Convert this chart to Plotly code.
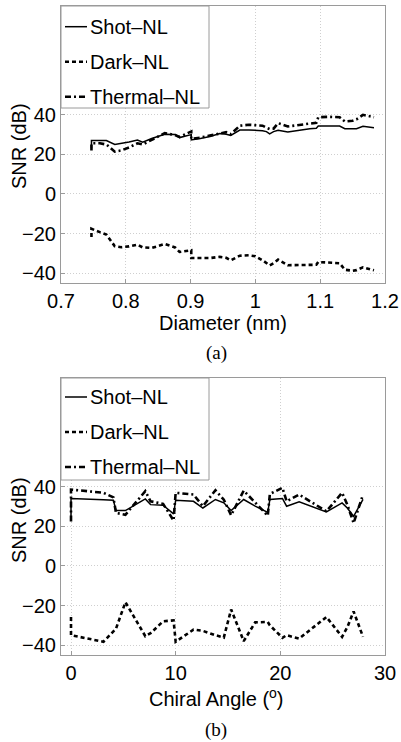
import plotly.graph_objects as go

# ---------------- data: panel (a) ----------------
diameter_nm = [0.747, 0.747, 0.760, 0.770, 0.783, 0.793, 0.805, 0.818, 0.826, 0.840,
               0.860, 0.876, 0.883, 0.901, 0.901, 0.915, 0.930, 0.945, 0.955, 0.962,
               0.976, 0.990, 1.000, 1.011, 1.017, 1.022, 1.028, 1.035, 1.050, 1.065,
               1.084, 1.094, 1.097, 1.113, 1.130, 1.138, 1.150, 1.156, 1.166, 1.183]
shot_a = [23.1, 27.0, 27.0, 27.0, 25.0, 25.5, 26.3, 27.3, 26.2, 28.0,
          30.2, 30.0, 28.5, 30.0, 27.3, 28.0, 29.0, 30.5, 30.2, 29.6,
          32.3, 32.3, 32.2, 32.0, 31.5, 30.4, 31.5, 32.2, 31.3, 32.2,
          33.0, 33.2, 34.3, 34.4, 34.3, 33.0, 33.2, 33.0, 34.2, 33.5]
dark_a = [-21.7, -17.6, -19.3, -20.5, -26.4, -26.9, -26.5, -25.6, -27.0, -27.3,
          -25.3, -27.0, -29.3, -28.5, -32.4, -32.4, -32.4, -31.8, -32.3, -33.5,
          -31.2, -31.0, -31.5, -33.5, -34.9, -36.1, -35.0, -33.2, -36.0, -35.9,
          -35.8, -35.8, -34.4, -34.6, -35.0, -38.3, -38.8, -38.5, -37.1, -38.6]
thermal_a = [22.0, 25.6, 25.6, 25.0, 21.4, 22.0, 23.5, 25.6, 25.0, 27.5,
             30.7, 29.8, 28.8, 31.6, 27.8, 28.5, 29.5, 30.7, 31.2, 30.2,
             34.5, 35.0, 34.8, 34.5, 33.5, 32.8, 33.0, 35.8, 34.1, 34.8,
             35.8, 36.0, 38.8, 39.0, 38.8, 36.6, 37.0, 37.7, 40.0, 38.8]

# ---------------- data: panel (b) ----------------
chiral_deg = [0.0, 0.0, 3.1, 4.05, 4.3, 5.2, 7.1, 7.6, 8.8, 9.8,
              10.0, 11.7, 12.6, 13.8, 14.6, 15.3, 16.5, 17.6, 18.8, 19.0,
              20.2, 20.6, 21.8, 24.4, 25.9, 26.4, 27.0, 27.9]
shot_b = [23.4, 34.1, 33.5, 33.2, 28.0, 28.0, 33.9, 31.0, 30.7, 26.3,
          33.2, 32.7, 29.3, 33.6, 31.9, 28.0, 33.6, 30.2, 27.1, 33.6,
          34.1, 30.2, 32.4, 27.3, 31.9, 29.3, 25.1, 33.6]
dark_b = [-25.8, -35.0, -38.3, -33.0, -31.7, -18.3, -35.5, -34.0, -28.0, -27.5,
          -38.3, -32.2, -32.8, -35.0, -36.2, -22.0, -38.0, -28.5, -28.3, -30.0,
          -36.3, -35.0, -36.7, -25.8, -35.8, -31.0, -23.0, -35.8]
thermal_b = [22.5, 38.6, 37.0, 34.7, 26.8, 25.9, 37.8, 32.7, 31.4, 23.0,
             37.0, 36.1, 30.2, 38.3, 33.5, 25.6, 38.1, 31.9, 25.4, 36.4,
             39.5, 32.7, 36.1, 27.6, 37.0, 31.0, 21.7, 36.1]

series_names = ["Shot–NL", "Dark–NL", "Thermal–NL"]
y_tickvals = [-40, -20, 0, 20, 40]
xa_tickvals = [0.7, 0.8, 0.9, 1.0, 1.1, 1.2]
xa_ticktext = ["0.7", "0.8", "0.9", "1", "1.1", "1.2"]
xb_tickvals = [0, 10, 20, 30]

# ---------------- layout geometry (pixels) ----------------
W, H = 401, 742
SANS = "Liberation Sans, Arial, sans-serif"
SERIF = "Liberation Serif, Times New Roman, serif"
FS = 20

def px(x):
    return x / W

def py(y):
    return 1 - y / H

styles = [
    dict(color="black", width=1.5, dash="solid"),
    dict(color="black", width=2.6, dash="4px,3px"),
    dict(color="black", width=2.6, dash="6px,3px,2px,3px"),
]

fig = go.Figure()
for ys, st, nm in zip([shot_a, dark_a, thermal_a], styles, series_names):
    fig.add_trace(go.Scatter(x=diameter_nm, y=ys, mode="lines", name=nm,
                             line=st, showlegend=False, xaxis="x", yaxis="y"))
for ys, st, nm in zip([shot_b, dark_b, thermal_b], styles, series_names):
    fig.add_trace(go.Scatter(x=chiral_deg, y=ys, mode="lines", name=nm,
                             line=st, showlegend=False, xaxis="x2", yaxis="y2"))

ax_common = dict(showline=True, mirror=True, linecolor="#9a9a9a", linewidth=1,
                 showgrid=True, gridcolor="#cfcfcf", griddash="1px,2px", gridwidth=1,
                 zeroline=False, ticks="inside", ticklen=4, tickcolor="#9a9a9a",
                 tickfont=dict(family=SANS, size=FS, color="black"),
                 automargin=False)

xdom = [px(61), px(385)]
fig.update_layout(
    width=W, height=H,
    margin=dict(l=0, r=0, t=0, b=0),
    paper_bgcolor="white", plot_bgcolor="white",
    showlegend=False,
    xaxis=dict(domain=xdom, range=[0.7, 1.2], tickvals=xa_tickvals,
               ticktext=xa_ticktext, anchor="y", **ax_common),
    yaxis=dict(domain=[py(283), py(6)], range=[-45, 95], tickvals=y_tickvals,
               anchor="x", **ax_common),
    xaxis2=dict(domain=xdom, range=[-0.955, 30], tickvals=xb_tickvals,
                anchor="y2", **ax_common),
    yaxis2=dict(domain=[py(655), py(378)], range=[-45, 95], tickvals=y_tickvals,
                anchor="x2", **ax_common),
)

shapes = []
annotations = []

# legends (one per panel)
for top, rows in [(6, [26.7, 61.7, 96.7]), (378, [397, 432, 467])]:
    bottom = top + 102
    shapes.append(dict(type="rect", xref="paper", yref="paper",
                       x0=px(61), x1=px(209), y0=py(bottom), y1=py(top),
                       line=dict(color="#9a9a9a", width=1), fillcolor="white",
                       layer="above"))
    for ry, st, nm in zip(rows, styles, series_names):
        shapes.append(dict(type="line", xref="paper", yref="paper",
                           x0=px(65), x1=px(87), y0=py(ry), y1=py(ry),
                           line=dict(color=st["color"], width=st["width"], dash=st["dash"]),
                           layer="above"))
        annotations.append(dict(xref="paper", yref="paper", x=px(88), y=py(ry),
                                xanchor="left", yanchor="middle", showarrow=False,
                                text=nm, font=dict(family=SANS, size=FS, color="black")))

# axis titles
annotations += [
    dict(xref="paper", yref="paper", x=px(19), y=py(146), textangle=-90,
         text="SNR (dB)", showarrow=False, xanchor="center", yanchor="middle",
         font=dict(family=SANS, size=FS, color="black")),
    dict(xref="paper", yref="paper", x=px(223), y=py(323),
         text="Diameter (nm)", showarrow=False, xanchor="center", yanchor="middle",
         font=dict(family=SANS, size=FS, color="black")),
    dict(xref="paper", yref="paper", x=px(216), y=py(353),
         text="(a)", showarrow=False, xanchor="center", yanchor="middle",
         font=dict(family=SERIF, size=19, color="black")),
    dict(xref="paper", yref="paper", x=px(19), y=py(520), textangle=-90,
         text="SNR (dB)", showarrow=False, xanchor="center", yanchor="middle",
         font=dict(family=SANS, size=FS, color="black")),
    dict(xref="paper", yref="paper", x=px(216), y=py(697),
         text="Chiral Angle (<sup>o</sup>)", showarrow=False, xanchor="center",
         yanchor="middle", font=dict(family=SANS, size=FS, color="black")),
    dict(xref="paper", yref="paper", x=px(216), y=py(730),
         text="(b)", showarrow=False, xanchor="center", yanchor="middle",
         font=dict(family=SERIF, size=19, color="black")),
]

fig.update_layout(shapes=shapes, annotations=annotations)
fig.write_html("out.html", config={"displayModeBar": False},
               post_script="document.body.style.margin='0';document.body.style.overflow='hidden';")
